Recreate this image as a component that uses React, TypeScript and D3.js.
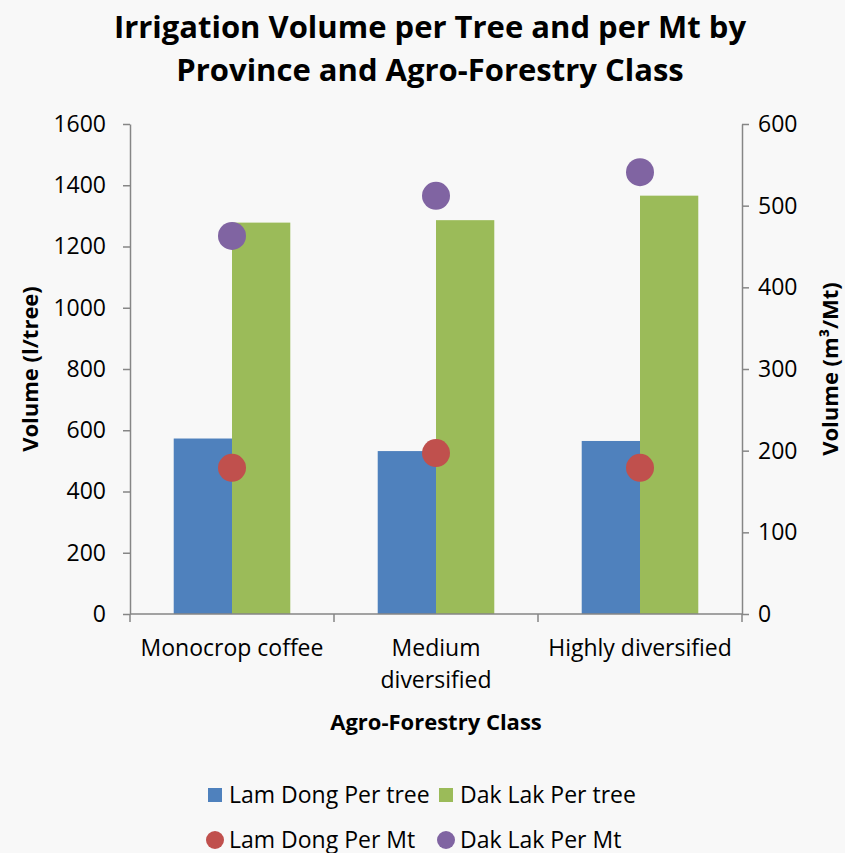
import React, { useRef, useEffect } from 'react';
import * as d3 from 'd3';

const categories = ['Monocrop coffee', 'Medium diversified', 'Highly diversified'];
const categoryLines = [['Monocrop coffee'], ['Medium', 'diversified'], ['Highly diversified']];
const barSeries = ['Lam Dong Per tree', 'Dak Lak Per tree'];
const pointSeries = ['Lam Dong Per Mt', 'Dak Lak Per Mt'];
const lamDongPerTree = [573, 532, 565];
const dakLakPerTree = [1278, 1286, 1366];
const lamDongPerMt = [179, 197, 179];
const dakLakPerMt = [463, 512, 541];
const leftTicks = [0, 200, 400, 600, 800, 1000, 1200, 1400, 1600];
const rightTicks = [0, 100, 200, 300, 400, 500, 600];

const barColors = ['#4f81bd', '#9bbb59'];
const pointColors = ['#c0504d', '#8064a2'];
const FONT = "'Open Sans', sans-serif";

const W = 845;
const H = 853;

const App: React.FC = () => {
    const svgRef = useRef<SVGSVGElement>(null);

    useEffect(() => {
        if (!svgRef.current) return;
        const svg = d3.select(svgRef.current);
        svg.selectAll('*').remove();

        const left = 130, right = 742, top = 124, bottom = 614;
        const axisColor = '#868686';

        svg.append('rect').attr('width', W).attr('height', H).attr('fill', '#f8f8f8');

        const x = d3.scaleBand<string>().domain(categories).range([left, right]).padding(0);
        const xSub = d3.scaleBand<string>().domain(barSeries).range([0, x.bandwidth()])
            .paddingInner(0).paddingOuter(0.75);
        const yL = d3.scaleLinear().domain([0, 1600]).range([bottom, top]);
        const yR = d3.scaleLinear().domain([0, 600]).range([bottom, top]);

        // Title
        const title = svg.append('text')
            .attr('text-anchor', 'middle')
            .attr('font-family', FONT)
            .attr('font-weight', 'bold')
            .attr('font-size', 31)
            .attr('fill', '#000');
        title.append('tspan').attr('x', 430).attr('y', 38).text('Irrigation Volume per Tree and per Mt by');
        title.append('tspan').attr('x', 430).attr('y', 81).text('Province and Agro-Forestry Class');

        // Bars
        const barData = [lamDongPerTree, dakLakPerTree];
        barData.forEach((vals, si) => {
            svg.append('g')
                .selectAll('rect')
                .data(vals)
                .enter()
                .append('rect')
                .attr('x', (_d: number, i: number) => (x(categories[i]) as number) + (xSub(barSeries[si]) as number))
                .attr('y', (d: number) => yL(d))
                .attr('width', xSub.bandwidth())
                .attr('height', (d: number) => bottom - yL(d))
                .attr('fill', barColors[si]);
        });

        // Left axis
        const gl = svg.append('g')
            .attr('transform', `translate(${left},0)`)
            .call(d3.axisLeft(yL).tickValues(leftTicks).tickFormat(d3.format('d')).tickSize(7).tickSizeOuter(0).tickPadding(17));
        gl.select('.domain').attr('stroke', axisColor).attr('stroke-width', 1.5);
        gl.selectAll('line').attr('stroke', axisColor).attr('stroke-width', 1.5);
        gl.selectAll('text').attr('font-family', FONT).attr('font-size', 23).attr('fill', '#000');

        // Right axis
        const gr = svg.append('g')
            .attr('transform', `translate(${right},0)`)
            .call(d3.axisRight(yR).tickValues(rightTicks).tickFormat(d3.format('d')).tickSize(7).tickSizeOuter(0).tickPadding(9));
        gr.select('.domain').attr('stroke', axisColor).attr('stroke-width', 1.5);
        gr.selectAll('line').attr('stroke', axisColor).attr('stroke-width', 1.5);
        gr.selectAll('text').attr('font-family', FONT).attr('font-size', 23).attr('fill', '#000');

        // X axis
        svg.append('line')
            .attr('x1', left).attr('x2', right)
            .attr('y1', bottom).attr('y2', bottom)
            .attr('stroke', axisColor).attr('stroke-width', 1.5);
        const edges = categories.map(c => x(c) as number).concat([right]);
        svg.append('g')
            .selectAll('line')
            .data(edges)
            .enter()
            .append('line')
            .attr('x1', (d: number) => d).attr('x2', (d: number) => d)
            .attr('y1', bottom).attr('y2', bottom + 8)
            .attr('stroke', axisColor).attr('stroke-width', 1.5);

        categoryLines.forEach((lines, i) => {
            const cx = (x(categories[i]) as number) + x.bandwidth() / 2;
            const t = svg.append('text')
                .attr('text-anchor', 'middle')
                .attr('font-family', FONT)
                .attr('font-size', 23)
                .attr('fill', '#000');
            lines.forEach((ln, j) => {
                t.append('tspan').attr('x', cx).attr('y', 656 + j * 32).text(ln);
            });
        });

        // Points
        const pointData = [lamDongPerMt, dakLakPerMt];
        pointData.forEach((vals, si) => {
            svg.append('g')
                .selectAll('circle')
                .data(vals)
                .enter()
                .append('circle')
                .attr('cx', (_d: number, i: number) => (x(categories[i]) as number) + x.bandwidth() / 2)
                .attr('cy', (d: number) => yR(d))
                .attr('r', 14)
                .attr('fill', pointColors[si]);
        });

        // Axis titles
        svg.append('text')
            .attr('transform', `translate(38,${(top + bottom) / 2}) rotate(-90)`)
            .attr('text-anchor', 'middle')
            .attr('font-family', FONT)
            .attr('font-weight', 'bold')
            .attr('font-size', 22)
            .text('Volume (l/tree)');
        svg.append('text')
            .attr('transform', `translate(838,${(top + bottom) / 2}) rotate(-90)`)
            .attr('text-anchor', 'middle')
            .attr('font-family', FONT)
            .attr('font-weight', 'bold')
            .attr('font-size', 22)
            .text('Volume (m³/Mt)');
        svg.append('text')
            .attr('x', 436).attr('y', 730)
            .attr('text-anchor', 'middle')
            .attr('font-family', FONT)
            .attr('font-weight', 'bold')
            .attr('font-size', 22)
            .text('Agro-Forestry Class');

        // Legend
        const legendItems = [
            { label: barSeries[0], color: barColors[0], shape: 'rect', x: 208, y: 795 },
            { label: barSeries[1], color: barColors[1], shape: 'rect', x: 439, y: 795 },
            { label: pointSeries[0], color: pointColors[0], shape: 'circle', x: 208, y: 840 },
            { label: pointSeries[1], color: pointColors[1], shape: 'circle', x: 439, y: 840 },
        ];
        legendItems.forEach(item => {
            const g = svg.append('g');
            if (item.shape === 'rect') {
                g.append('rect')
                    .attr('x', item.x).attr('y', item.y - 7)
                    .attr('width', 14).attr('height', 14)
                    .attr('fill', item.color);
            } else {
                g.append('circle')
                    .attr('cx', item.x + 7).attr('cy', item.y)
                    .attr('r', 9)
                    .attr('fill', item.color);
            }
            g.append('text')
                .attr('x', item.x + 21).attr('y', item.y + 8)
                .attr('font-family', FONT)
                .attr('font-size', 23)
                .attr('fill', '#000')
                .text(item.label);
        });
    }, []);

    return (
        <svg
            ref={svgRef}
            width={W}
            height={H}
            style={{ position: 'absolute', left: 0, top: 0 }}
        />
    );
};

export default App;
